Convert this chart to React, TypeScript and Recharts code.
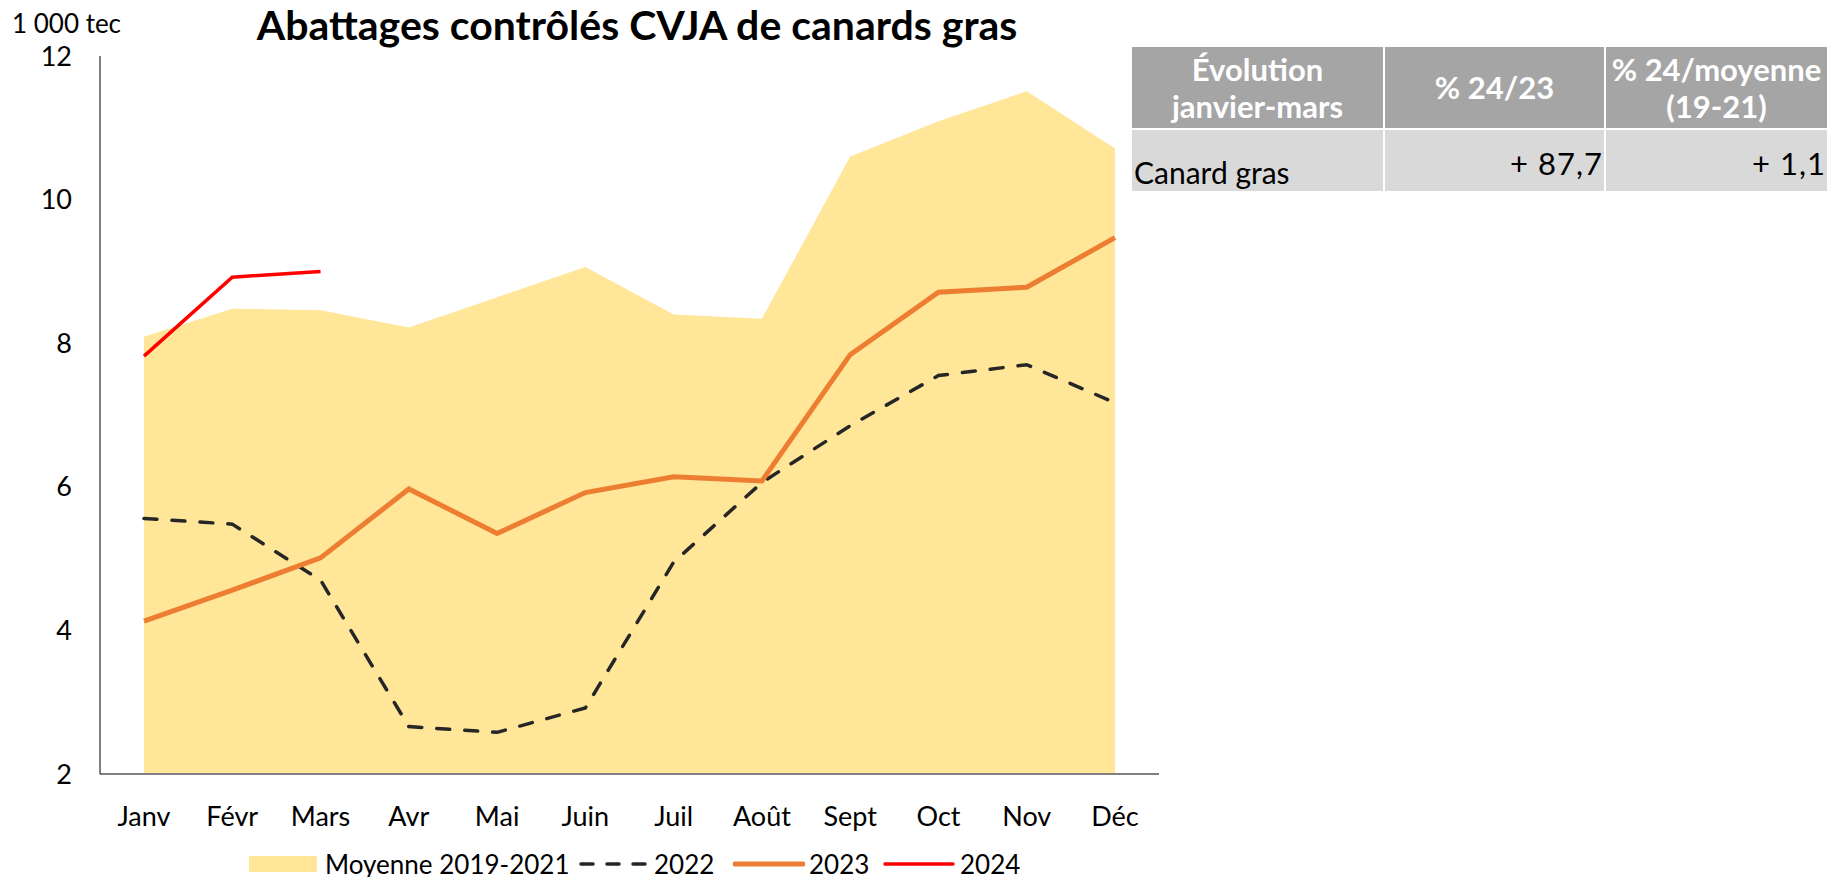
import React from 'react';
import { ComposedChart, Area, Line, XAxis, YAxis } from 'recharts';

const months = ['Janv', 'Févr', 'Mars', 'Avr', 'Mai', 'Juin', 'Juil', 'Août', 'Sept', 'Oct', 'Nov', 'Déc'];
const moyenne = [8.09, 8.48, 8.46, 8.22, 8.64, 9.06, 8.4, 8.34, 10.6, 11.09, 11.51, 10.71];
const y2022 = [5.56, 5.48, 4.7, 2.66, 2.58, 2.92, 4.95, 6.06, 6.85, 7.55, 7.7, 7.17];
const y2023 = [4.13, 4.56, 5.01, 5.97, 5.35, 5.92, 6.14, 6.08, 7.84, 8.71, 8.78, 9.47];
const y2024 = [7.82, 8.92, 9.0];
const yTicks = [2, 4, 6, 8, 10, 12];

const tableHeader = ['Évolution\njanvier-mars', '% 24/23', '% 24/moyenne\n(19-21)'];
const tableRow = ['Canard gras', '+ 87,7', '+ 1,1'];

const FONT = 'Lato, sans-serif';
const C_AREA = '#FFE699';
const C_2022 = '#262626';
const C_2023 = '#ED7D31';
const C_2024 = '#FF0000';

const data = months.map((m, i) => ({
  month: m,
  moyenne: moyenne[i],
  y2022: y2022[i],
  y2023: y2023[i],
  y2024: i < y2024.length ? y2024[i] : null,
}));

// legend entries: swatch left, text left (px)
const legendItems = [
  { kind: 'area', label: 'Moyenne 2019-2021', sx: 249, tx: 325 },
  { kind: '2022', label: '2022', sx: 579, tx: 654 },
  { kind: '2023', label: '2023', sx: 733, tx: 809 },
  { kind: '2024', label: '2024', sx: 883, tx: 960 },
];

const LegendSwatch = ({ kind }: { kind: string }) => {
  if (kind === 'area') {
    return <div style={{ width: 68, height: 16, background: C_AREA }} />;
  }
  const stroke = kind === '2022' ? C_2022 : kind === '2023' ? C_2023 : C_2024;
  const width = kind === '2023' ? 5 : 3.5;
  return (
    <svg width={72} height={16} style={{ display: 'block' }}>
      <line
        x1={2}
        x2={70}
        y1={8}
        y2={8}
        stroke={stroke}
        strokeWidth={width}
        strokeDasharray={kind === '2022' ? '12 14' : undefined}
        strokeLinecap="round"
      />
    </svg>
  );
};

export default function App() {
  return (
    <div style={{ position: 'absolute', left: 0, top: 0, width: 1830, height: 877, background: '#fff', fontFamily: FONT, color: '#000' }}>
      <div style={{ position: 'absolute', left: 12, top: 7, fontSize: 26 }}>1 000 tec</div>
      <div style={{ position: 'absolute', left: 0, width: 1274, top: 0, textAlign: 'center', fontSize: 41, fontWeight: 700 }}>
        Abattages contrôlés CVJA de canards gras
      </div>

      <div style={{ position: 'absolute', left: 0, top: 0 }}>
        <ComposedChart width={1170} height={877} data={data} margin={{ top: 56, right: 11, bottom: 0, left: 0 }}>
          <XAxis
            dataKey="month"
            height={103}
            padding={{ left: 44, right: 44 }}
            tickLine={false}
            tickSize={0}
            tickMargin={33}
            axisLine={{ stroke: '#808080', strokeWidth: 2 }}
            tick={{ fill: '#000', fontSize: 27, fontFamily: FONT }}
            interval={0}
          />
          <YAxis
            width={100}
            domain={[2, 12]}
            ticks={yTicks}
            tickLine={false}
            tickSize={0}
            tickMargin={28}
            axisLine={{ stroke: '#000', strokeWidth: 1 }}
            tick={{ fill: '#000', fontSize: 27, fontFamily: FONT }}
          />
          <Area
            type="linear"
            dataKey="moyenne"
            fill={C_AREA}
            fillOpacity={1}
            stroke="none"
            isAnimationActive={false}
          />
          <Line
            type="linear"
            dataKey="y2022"
            stroke={C_2022}
            strokeWidth={3.5}
            strokeDasharray="13 15"
            strokeLinecap="round"
            dot={false}
            isAnimationActive={false}
          />
          <Line
            type="linear"
            dataKey="y2023"
            stroke={C_2023}
            strokeWidth={5}
            dot={false}
            isAnimationActive={false}
          />
          <Line
            type="linear"
            dataKey="y2024"
            stroke={C_2024}
            strokeWidth={3.5}
            dot={false}
            connectNulls={false}
            isAnimationActive={false}
          />
        </ComposedChart>
      </div>

      {legendItems.map((it) => (
        <React.Fragment key={it.kind}>
          <div style={{ position: 'absolute', left: it.sx, top: 856 }}>
            <LegendSwatch kind={it.kind} />
          </div>
          <div style={{ position: 'absolute', left: it.tx, top: 848, fontSize: 26, lineHeight: '32px', whiteSpace: 'nowrap' }}>
            {it.label}
          </div>
        </React.Fragment>
      ))}

      <div
        style={{
          position: 'absolute',
          left: 1132,
          top: 47,
          display: 'grid',
          gridTemplateColumns: '251px 219px 221px',
          gridTemplateRows: '81px 61px',
          columnGap: 2,
          rowGap: 2,
        }}
      >
        {tableHeader.map((h) => (
          <div
            key={h}
            style={{
              background: '#A5A5A5',
              color: '#fff',
              fontWeight: 700,
              fontSize: 31,
              lineHeight: '37px',
              display: 'flex',
              alignItems: 'center',
              justifyContent: 'center',
              textAlign: 'center',
              whiteSpace: 'pre-line',
            }}
          >
            {h}
          </div>
        ))}
        {tableRow.map((v, i) => (
          <div
            key={v}
            style={{
              background: '#D9D9D9',
              fontSize: i === 0 ? 30 : 31,
              letterSpacing: i === 0 ? 0 : 1,
              display: 'flex',
              alignItems: i === 0 ? 'flex-end' : 'center',
              justifyContent: i === 0 ? 'flex-start' : 'flex-end',
              padding: i === 0 ? '0 0 1px 2px' : '4px 1px 0 0',
            }}
          >
            {v}
          </div>
        ))}
      </div>
    </div>
  );
}
